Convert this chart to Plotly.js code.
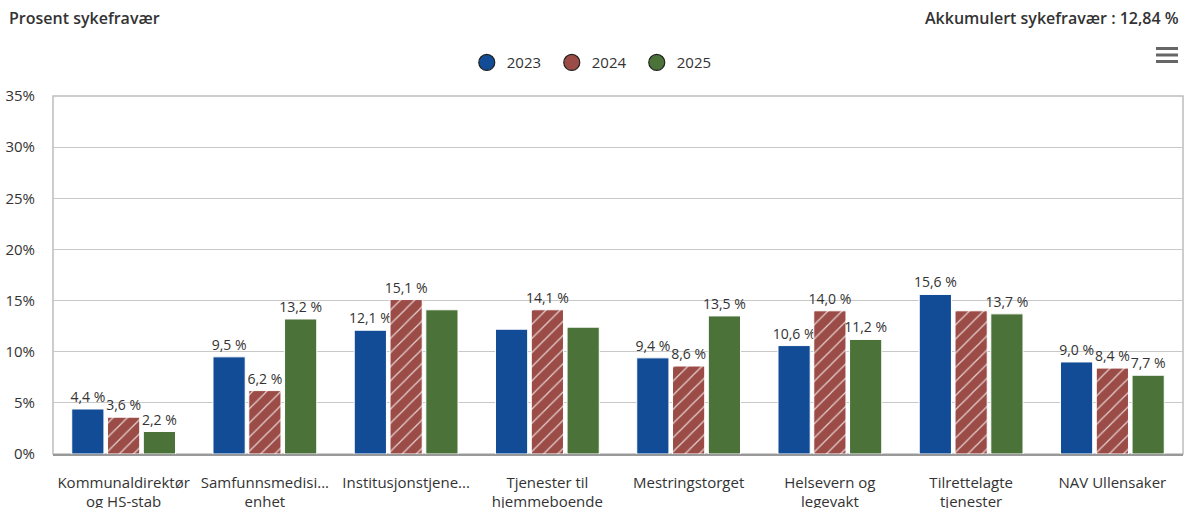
<!DOCTYPE html>
<html>
<head>
<meta charset="utf-8">
<script src="https://cdn.plot.ly/plotly-3.0.1.min.js"></script>
<style>html,body{margin:0;padding:0;background:#fff;}#chart{width:1184px;height:508px;}</style>
</head>
<body>
<div id="chart"></div>
<script>
const categories = [
  "Kommunaldirektør<br>og HS-stab",
  "Samfunnsmedisi...<br>enhet",
  "Institusjonstjene...",
  "Tjenester til<br>hjemmeboende",
  "Mestringstorget",
  "Helsevern og<br>legevakt",
  "Tilrettelagte<br>tjenester",
  "NAV Ullensaker"
];
const years = ["2023", "2024", "2025"];
const values2023 = [4.4, 9.5, 12.1, 12.2, 9.4, 10.6, 15.6, 9.0];
const values2024 = [3.6, 6.2, 15.1, 14.1, 8.6, 14.0, 14.0, 8.4];
const values2025 = [2.2, 13.2, 14.1, 12.4, 13.5, 11.2, 13.7, 7.7];
// indices whose data labels are hidden in the original (overlapping labels)
const hidden2023 = [3];
const hidden2024 = [6];
const hidden2025 = [2, 3];
const yTicks = [0, 5, 10, 15, 20, 25, 30, 35];
const titleLeft = "Prosent sykefravær";
const titleRight = "Akkumulert sykefravær : 12,84 %";

const colors = ["#134c96", "#9b4c47", "#4b7339"];
const FONT = "Open Sans, Noto Sans, sans-serif";

function fmt(v) { return v.toFixed(1).replace(".", ",") + " %"; }
function labels(vals, hidden) { return vals.map((v, i) => hidden.includes(i) ? "" : fmt(v)); }

const series = [
  {name: years[0], y: values2023, hidden: hidden2023, color: colors[0], pattern: null},
  {name: years[1], y: values2024, hidden: hidden2024, color: colors[1], pattern: true},
  {name: years[2], y: values2025, hidden: hidden2025, color: colors[2], pattern: null}
];

const traces = [];
series.forEach(s => {
  const marker = {color: s.color, line: {color: "#ffffff", width: 1}};
  if (s.pattern) {
    marker.pattern = {shape: "/", fgcolor: "rgba(255,255,255,0.75)", bgcolor: s.color, size: 10, solidity: 0.12, fillmode: "replace"};
  }
  traces.push({
    type: "bar", name: s.name, x: categories, y: s.y,
    text: labels(s.y, s.hidden), textposition: "outside", constraintext: "none", cliponaxis: false,
    textfont: {family: FONT, size: 14, color: "#333333"},
    marker: marker, showlegend: false, hoverinfo: "x+y"
  });
});
series.forEach(s => {
  traces.push({
    type: "scatter", mode: "markers", name: s.name, x: [null], y: [null],
    marker: {symbol: "circle", size: 17, color: s.color, line: {color: "#222", width: 1.2}},
    showlegend: true, hoverinfo: "skip"
  });
});

function px2x(px) { return (px - 53) / 1130; }
function px2y(py) { return (454 - py) / 358; }

const shapes = [
  {type: "rect", xref: "paper", yref: "paper", x0: 0, x1: 1, y0: 0, y1: 1, line: {color: "#bdbdbd", width: 1.5}, layer: "below"}
];
[48.5, 55, 61.5].forEach(py => {
  shapes.push({type: "rect", xref: "paper", yref: "paper", x0: px2x(1156), x1: px2x(1178), y0: px2y(py + 1.5), y1: px2y(py - 1.5), fillcolor: "#666", line: {width: 0}});
});

const layout = {
  width: 1184, height: 508,
  margin: {l: 53, r: 1, t: 96, b: 54},
  paper_bgcolor: "#fff", plot_bgcolor: "#fff",
  font: {family: FONT, color: "#333"},
  barmode: "group", bargap: 0.24, bargroupgap: 0.1,
  xaxis: {
    type: "category", showline: true, linecolor: "#999", linewidth: 1.5,
    ticks: "", tickfont: {family: FONT, size: 15, color: "#333"}, ticklabelstandoff: 14,
    showgrid: false, fixedrange: true
  },
  yaxis: {
    range: [0, 35], tickvals: yTicks, ticktext: yTicks.map(t => t + "%"),
    tickfont: {family: FONT, size: 15, color: "#333"},
    gridcolor: "#c8c8c8", gridwidth: 1.2, zeroline: false, showline: false, ticks: "",
    ticklabelstandoff: 17, fixedrange: true
  },
  legend: {
    orientation: "h", x: 0.479, xanchor: "center", y: 1.093, yanchor: "middle",
    font: {family: FONT, size: 15, color: "#333"}, itemwidth: 30, tracegroupgap: 0,
    entrywidth: 40
  },
  annotations: [
    {text: titleLeft, xref: "paper", yref: "paper", x: px2x(7), y: px2y(18), xanchor: "left", yanchor: "middle", showarrow: false,
     font: {family: FONT, size: 16, color: "#333", weight: 600}},
    {text: titleRight, xref: "paper", yref: "paper", x: px2x(1181), y: px2y(18), xanchor: "right", yanchor: "middle", showarrow: false,
     font: {family: FONT, size: 16, color: "#333", weight: 600}}
  ],
  shapes: shapes,
  showlegend: true
};

Plotly.newPlot("chart", traces, layout, {displayModeBar: false, staticPlot: false});
</script>
</body>
</html>
